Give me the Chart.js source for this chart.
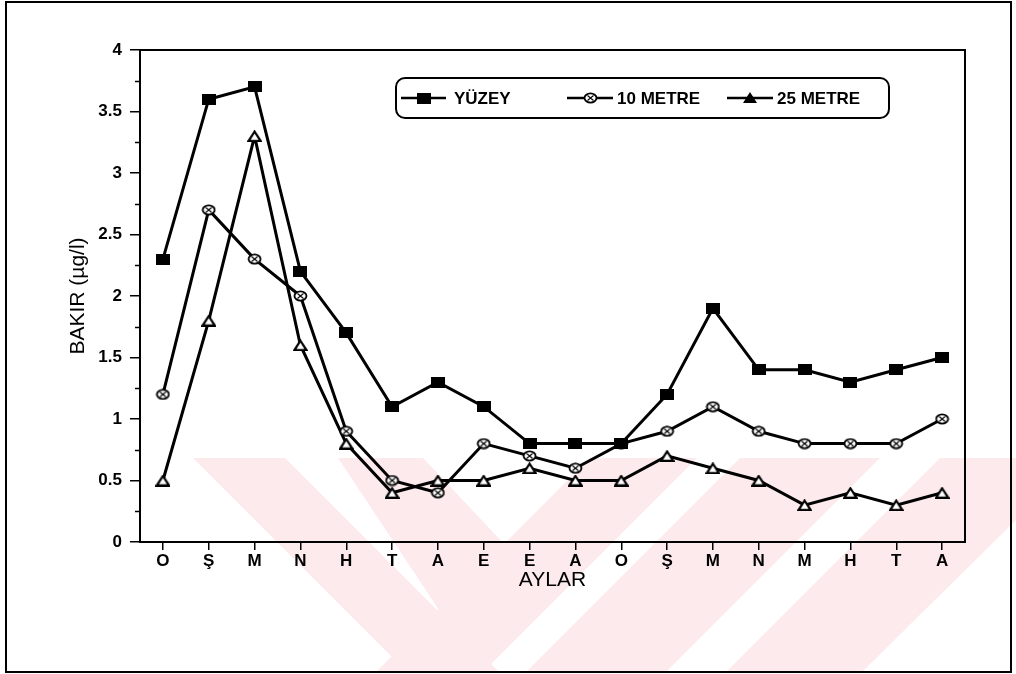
<!DOCTYPE html>
<html>
<head>
<meta charset="utf-8">
<script src="https://cdn.jsdelivr.net/npm/chart.js@4.4.1/dist/chart.umd.min.js"></script>
<style>
  html, body { margin: 0; padding: 0; background: #fff; }
  #wrap { width: 1016px; height: 674px; position: relative; }
</style>
</head>
<body>
<div id="wrap"><canvas id="chart" width="1016" height="674"></canvas></div>
<script>
// Monthly copper concentrations at three depths
const months   = ['O','Ş','M','N','H','T','A','E','E','A','O','Ş','M','N','M','H','T','A'];
const yuzey    = [2.3, 3.6, 3.7, 2.2, 1.7, 1.1, 1.3, 1.1, 0.8, 0.8, 0.8, 1.2, 1.9, 1.4, 1.4, 1.3, 1.4, 1.5];
const metre10  = [1.2, 2.7, 2.3, 2.0, 0.9, 0.5, 0.4, 0.8, 0.7, 0.6, 0.8, 0.9, 1.1, 0.9, 0.8, 0.8, 0.8, 1.0];
const metre25  = [0.5, 1.8, 3.3, 1.6, 0.8, 0.4, 0.5, 0.5, 0.6, 0.5, 0.5, 0.7, 0.6, 0.5, 0.3, 0.4, 0.3, 0.4];
const seriesNames = ['YÜZEY', '10 METRE', '25 METRE'];
const yMin = 0, yMax = 4, yStep = 0.5;

const FONT = "'Liberation Sans', Arial, sans-serif";

// Marker images
function makeMarker(w, h, paint) {
  const c = document.createElement('canvas');
  c.width = w; c.height = h;
  paint(c.getContext('2d'), w, h);
  return c;
}
const squareMarker = makeMarker(14, 11, (g, w, h) => {
  g.fillStyle = '#000';
  g.fillRect(0, 0, w, h);
});
const ovalMarker = makeMarker(15, 12, (g) => {
  g.fillStyle = '#fff';
  g.strokeStyle = '#000';
  g.lineWidth = 1.8;
  g.beginPath();
  g.ellipse(7.5, 6, 6, 4.6, 0, 0, Math.PI * 2);
  g.fill();
  g.stroke();
  g.lineWidth = 1.1;
  g.beginPath();
  g.moveTo(4.5, 3.5); g.lineTo(10.5, 8.5);
  g.moveTo(10.5, 3.5); g.lineTo(4.5, 8.5);
  g.stroke();
});
const triangleMarker = makeMarker(15, 12, (g) => {
  g.fillStyle = '#fff';
  g.strokeStyle = '#000';
  g.lineWidth = 2.2;
  g.lineJoin = 'miter';
  g.beginPath();
  g.moveTo(7.5, 1.5);
  g.lineTo(13.5, 10.8);
  g.lineTo(1.5, 10.8);
  g.closePath();
  g.fill();
  g.stroke();
});

// Page background, pale watermark bands and outer frame
const backdrop = {
  id: 'backdrop',
  beforeDraw(chart) {
    const ctx = chart.ctx;
    ctx.save();
    ctx.fillStyle = '#fff';
    ctx.fillRect(0, 0, chart.width, chart.height);
    ctx.fillStyle = '#fdeaed';
    const bands = [
      [[193,458],[285,458],[499,672],[407,672]],   // left arm, falling
      [[338,458],[423,458],[505,545],[447,622]],   // inner falling arm
      [[590,458],[697,458],[483,672],[376,672]],   // rising arm
      [[740,458],[880,458],[666,672],[526,672]],   // rising band
      [[940,458],[1016,458],[1016,520],[862,672],[726,672]]  // rising band at right
    ];
    bands.forEach(poly => {
      ctx.beginPath();
      poly.forEach((p, i) => i ? ctx.lineTo(p[0], p[1]) : ctx.moveTo(p[0], p[1]));
      ctx.closePath();
      ctx.fill();
    });
    ctx.strokeStyle = '#000';
    ctx.lineWidth = 2;
    ctx.strokeRect(6, 2, 1005, 670);
    ctx.restore();
  },
  beforeDatasetsDraw(chart) {
    const {ctx, chartArea: a, scales: {y}} = chart;
    ctx.save();
    ctx.strokeStyle = '#000';
    ctx.lineWidth = 2;
    ctx.strokeRect(a.left, a.top, a.right - a.left, a.bottom - a.top);
    // minor ticks halfway between labelled values
    ctx.lineWidth = 1.5;
    for (let v = yMin + yStep / 2; v < yMax; v += yStep) {
      const py = Math.round(y.getPixelForValue(v)) + 0.5;
      ctx.beginPath();
      ctx.moveTo(a.left - 5, py);
      ctx.lineTo(a.left, py);
      ctx.stroke();
    }
    ctx.restore();
  }
};

// Boxed legend inside the plot
const boxedLegend = {
  id: 'boxedLegend',
  afterDraw(chart) {
    const ctx = chart.ctx;
    ctx.save();
    ctx.strokeStyle = '#000';
    ctx.lineWidth = 2;
    const bx = 396, by = 78, bw = 493, bh = 40, r = 9;
    ctx.beginPath();
    ctx.roundRect(bx, by, bw, bh, r);
    ctx.stroke();
    const cy = by + bh / 2;
    const items = [
      {x0: 401, x1: 446, tx: 454},
      {x0: 567, x1: 613, tx: 617},
      {x0: 727, x1: 773, tx: 777}
    ];
    ctx.font = "bold 17px " + FONT;
    ctx.textBaseline = 'middle';
    ctx.fillStyle = '#000';
    items.forEach((it, i) => {
      const ds = chart.data.datasets[i];
      ctx.lineWidth = 2.5;
      ctx.beginPath();
      ctx.moveTo(it.x0, cy);
      ctx.lineTo(it.x1, cy);
      ctx.stroke();
      const mx = (it.x0 + it.x1) / 2;
      const img = ds.pointStyle;
      if (i === 2) {
        ctx.beginPath();
        ctx.moveTo(mx, cy - 6);
        ctx.lineTo(mx + 7, cy + 5);
        ctx.lineTo(mx - 7, cy + 5);
        ctx.closePath();
        ctx.fill();
      } else {
        ctx.drawImage(img, Math.round(mx - img.width / 2), Math.round(cy - img.height / 2));
      }
      ctx.fillText(ds.label, it.tx, cy + 1);
    });
    ctx.restore();
  }
};

const common = {
  borderColor: '#000',
  borderWidth: 3,
  tension: 0,
  fill: false,
  pointRadius: 6,
  pointBorderColor: '#000'
};

new Chart(document.getElementById('chart'), {
  type: 'line',
  data: {
    labels: months,
    datasets: [
      Object.assign({}, common, { label: seriesNames[0], data: yuzey,   pointStyle: squareMarker }),
      Object.assign({}, common, { label: seriesNames[1], data: metre10, pointStyle: ovalMarker }),
      Object.assign({}, common, { label: seriesNames[2], data: metre25, pointStyle: triangleMarker })
    ]
  },
  options: {
    responsive: false,
    animation: false,
    devicePixelRatio: 1,
    layout: { padding: { left: 0, right: 51, top: 50, bottom: 0 } },
    plugins: {
      legend: { display: false },
      tooltip: { enabled: false }
    },
    scales: {
      x: {
        type: 'category',
        offset: true,
        afterFit(scale) { scale.height = 132; },
        grid: { drawOnChartArea: false, drawTicks: true, tickLength: 8, color: '#000', lineWidth: 1.5 },
        border: { display: true, color: '#000', width: 2 },
        ticks: { color: '#000', font: { family: FONT, size: 17, weight: 'bold' }, padding: 1, maxRotation: 0, autoSkip: false },
        title: { display: true, text: 'AYLAR', color: '#000', font: { family: FONT, size: 21 }, padding: { top: 0, bottom: 81 } }
      },
      y: {
        min: yMin, max: yMax,
        afterFit(scale) { scale.width = 140; },
        grid: { drawOnChartArea: false, drawTicks: true, tickLength: 10, color: '#000', lineWidth: 1.5 },
        border: { display: true, color: '#000', width: 2 },
        ticks: {
          stepSize: yStep, color: '#000', padding: 8,
          font: { family: FONT, size: 17, weight: 'bold' },
          callback: (v) => String(Number(v))
        },
        title: { display: true, text: 'BAKIR (µg/l)', color: '#000', font: { family: FONT, size: 21 }, padding: { top: 66, bottom: 0 } }
      }
    }
  },
  plugins: [backdrop, boxedLegend]
});
</script>
</body>
</html>
